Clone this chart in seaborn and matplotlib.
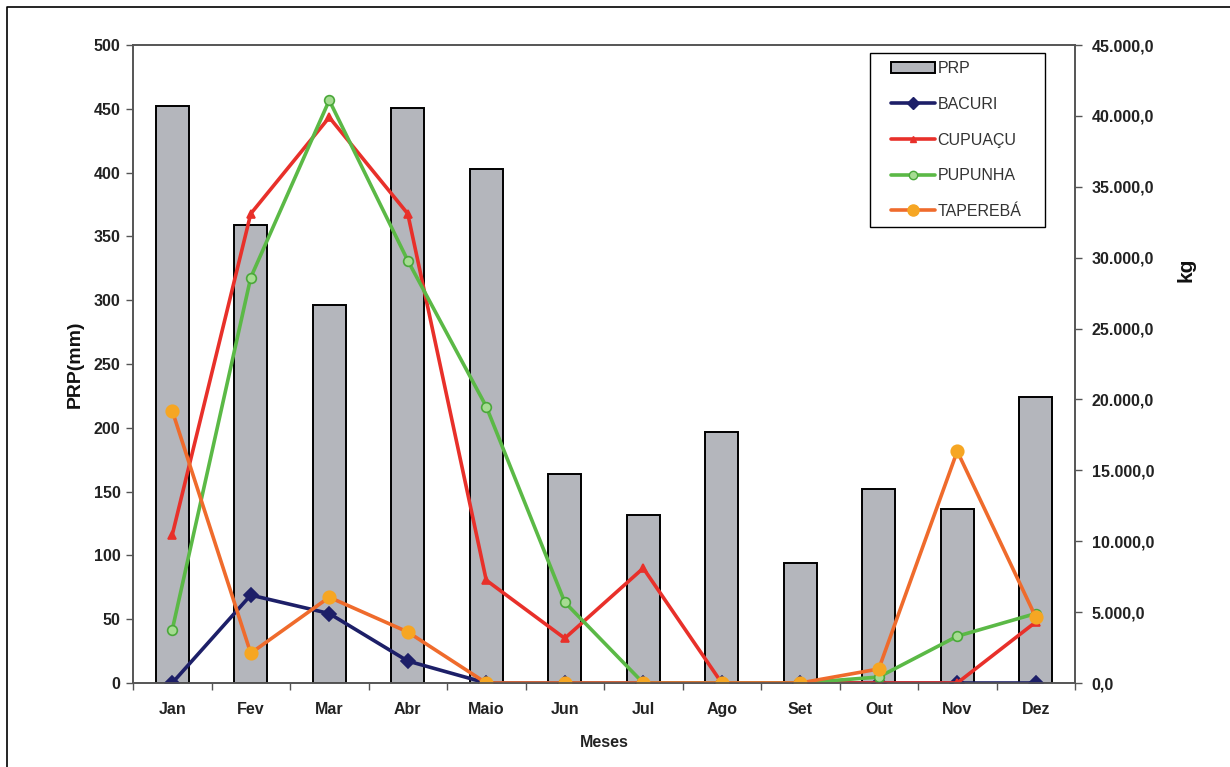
import numpy as np
import pandas as pd
import matplotlib
matplotlib.use("Agg")
import matplotlib.pyplot as plt
from matplotlib.ticker import FuncFormatter, FixedLocator, MultipleLocator, NullFormatter
from matplotlib.lines import Line2D
from matplotlib.patches import Patch, Rectangle
import seaborn as sns

# Monthly rainfall (mm) and fruit production (kg)
meses = ["Jan", "Fev", "Mar", "Abr", "Maio", "Jun", "Jul", "Ago", "Set", "Out", "Nov", "Dez"]
prp = [452, 359, 296, 451, 403, 164, 132, 197, 94, 152, 136, 224]
bacuri = [0, 6200, 4900, 1550, 0, 0, 0, 0, 0, 0, 0, 0]
cupuacu = [10450, 33100, 39900, 33100, 7250, 3150, 8100, 0, 0, 0, 0, 4300]
pupunha = [3750, 28600, 41100, 29800, 19500, 5700, 0, 0, 0, 420, 3300, 4900]
tapereba = [19200, 2100, 6050, 3600, 0, 0, 0, 0, 0, 990, 16350, 4650]

series_names = ["BACURI", "CUPUAÇU", "PUPUNHA", "TAPEREBÁ"]
series_values = [bacuri, cupuacu, pupunha, tapereba]

sns.set_style("white")
plt.rcParams["font.family"] = ["Liberation Sans", "DejaVu Sans"]

W, H = 1230, 767
fig = plt.figure(figsize=(W / 100, H / 100), dpi=100)
ax = fig.add_axes([133 / W, 1 - 683 / H, (1075 - 133) / W, (683 - 45) / H])

bar_color = "#b4b6bc"
sns.barplot(x=meses, y=prp, ax=ax, color=bar_color, saturation=1,
            edgecolor="black", linewidth=1.4, width=0.42)

ax.set_xlim(-0.5, 11.5)
ax.set_ylim(0, 500)
ax.yaxis.set_major_locator(MultipleLocator(50))

ax2 = ax.twinx()
styles = {
    "BACURI": dict(color="#1d1f68", marker="D", markersize=7,
                   markerfacecolor="#1d1f68", markeredgecolor="#1d1f68"),
    "CUPUAÇU": dict(color="#e8302a", marker="^", markersize=6,
                    markerfacecolor="#e8302a", markeredgecolor="#e8302a"),
    "PUPUNHA": dict(color="#5bb946", marker="o", markersize=7,
                    markerfacecolor="#a6dc92", markeredgecolor="#4aa83a"),
    "TAPEREBÁ": dict(color="#ef6b2c", marker="o", markersize=9,
                     markerfacecolor="#f6a623", markeredgecolor="#f6a623"),
}
for name, vals in zip(series_names, series_values):
    st = styles[name]
    sns.lineplot(x=meses, y=vals, ax=ax2, sort=False, linewidth=2.6,
                 color=st["color"], marker=st["marker"], markersize=st["markersize"],
                 markerfacecolor=st["markerfacecolor"],
                 markeredgecolor=st["markeredgecolor"], markeredgewidth=1.2)

ax2.set_ylim(0, 45000)
ax2.yaxis.set_major_locator(MultipleLocator(5000))
ax2.set_xlim(-0.5, 11.5)


def br_fmt(v, pos):
    s = f"{v:,.1f}"
    return s.replace(",", "X").replace(".", ",").replace("X", ".")


ax2.yaxis.set_major_formatter(FuncFormatter(br_fmt))

for a in (ax, ax2):
    for sp in a.spines.values():
        sp.set_color("#555555")
        sp.set_linewidth(1.2)

ax.tick_params(axis="y", which="major", direction="out", length=5, width=1,
               color="#555555", pad=4, labelsize=11.5, labelcolor="#222222", left=True)
ax2.tick_params(axis="y", which="major", direction="out", length=5, width=1,
                color="#555555", pad=7, labelsize=11.5, labelcolor="#222222", right=True)
for lab in ax.get_yticklabels() + ax2.get_yticklabels():
    lab.set_fontweight("bold")

# category labels centred on bars, small tick marks on category boundaries
ax.xaxis.set_minor_locator(FixedLocator(np.arange(-0.5, 12, 1.0)))
ax.xaxis.set_minor_formatter(NullFormatter())
ax.tick_params(axis="x", which="major", length=0, pad=14, labelsize=11.5,
               labelcolor="#222222")
ax.tick_params(axis="x", which="minor", direction="out", length=5, width=1,
               color="#555555", bottom=True)
for lab in ax.get_xticklabels():
    lab.set_fontweight("bold")
ax2.tick_params(axis="x", which="both", length=0)

ax.set_xlabel("Meses", fontsize=11.5, fontweight="bold", color="#222222")
ax.xaxis.set_label_coords(0.5, -0.081)
ax.set_ylabel("PRP(mm)", fontsize=14, fontweight="bold", color="#111111")
ax.yaxis.set_label_coords(-0.052, 0.5)
ax2.set_ylabel("kg", fontsize=15, fontweight="bold", color="#111111", rotation=90)
ax2.yaxis.set_label_coords(1.108, 0.647)

handles = [Patch(facecolor=bar_color, edgecolor="black", linewidth=1.4, label="PRP")]
for name in series_names:
    st = styles[name]
    handles.append(Line2D([], [], color=st["color"], linewidth=2.6, marker=st["marker"],
                          markersize=st["markersize"] - 1,
                          markerfacecolor=st["markerfacecolor"],
                          markeredgecolor=st["markeredgecolor"], label=name))

# legend box drawn as a plain rectangle, entries placed inside it
fig.add_artist(Rectangle((870 / W, 1 - 227 / H), 175 / W, 174 / H,
                         transform=fig.transFigure, facecolor="white",
                         edgecolor="black", linewidth=1.0, zorder=5))
leg = fig.legend(handles=handles, loc="upper left",
                 bbox_to_anchor=(891 / W, 1 - 61 / H), bbox_transform=fig.transFigure,
                 borderaxespad=0, frameon=False, fontsize=11.5,
                 labelspacing=1.3, handlelength=2.75, handletextpad=0.15,
                 borderpad=0.0)
leg.set_zorder(6)
for t in leg.get_texts():
    t.set_color("#333333")

# page frame along the top and left edges
fig.add_artist(Line2D([7 / W, 7 / W, 1.0], [0.0, 1 - 7 / H, 1 - 7 / H],
                      transform=fig.transFigure, color="black", linewidth=1.2))

fig.savefig("out.png", dpi=100)
